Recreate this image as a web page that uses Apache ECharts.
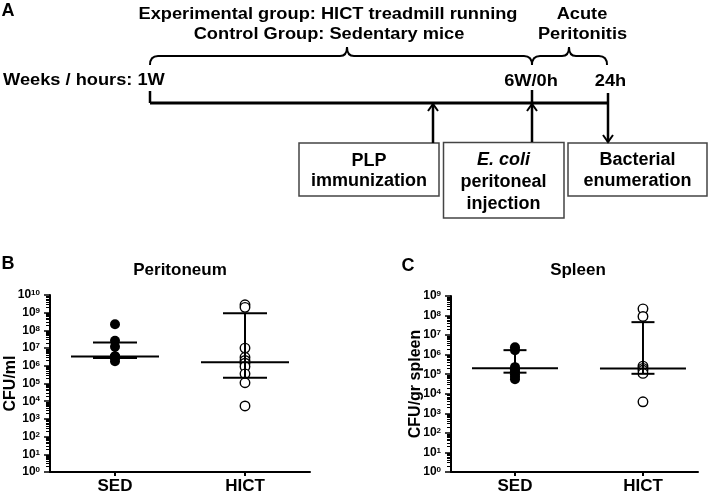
<!DOCTYPE html>
<html><head><meta charset="utf-8">
<script src="https://cdn.jsdelivr.net/npm/echarts@6.0.0/dist/echarts.min.js"></script>
<style>html,body{margin:0;padding:0;background:#fff}#c{width:709px;height:495px}</style>
</head><body><div id="c"></div>
<script>
// ---------- data ----------
const categories = ['SED', 'HICT'];
// Panel B: Peritoneum (CFU/ml)
const periSED = [2.2e8, 2.6e7, 1.2e7, 3.5e6, 3.4e6, 3.0e6, 2.8e6, 1.8e6];
const periHICT = [2.8e9, 2.0e9, 1.0e7, 3.0e6, 2.0e6, 1.4e6, 9.0e5, 3.5e5, 1.1e5, 5.4e3];
const periMedian = [3.4e6, 1.6e6];
const periQ1 = [2.8e6, 2.1e5];
const periQ3 = [2.1e7, 9.3e8];
// Panel C: Spleen (CFU/gr spleen)
const splSED = [2.4e6, 1.7e6, 2.3e5, 1.8e5, 1.4e5, 1.0e5, 7.5e4, 5.6e4];
const splHICT = [2.2e8, 9.0e7, 2.6e5, 2.0e5, 1.6e5, 1.1e5, 3.9e3];
const splMedian = [2.0e5, 1.95e5];
const splQ1 = [1.2e5, 1.05e5];
const splQ3 = [1.7e6, 4.6e7];
// axis ticks
const periMajorTicks = [1, 1e1, 1e2, 1e3, 1e4, 1e5, 1e6, 1e7, 1e8, 1e9, 1e10];
const splMajorTicks = [1, 1e1, 1e2, 1e3, 1e4, 1e5, 1e6, 1e7, 1e8, 1e9];

function minorTicks(maxExp) {
  const out = [];
  for (let d = 0; d < maxExp; d++) for (let m = 2; m <= 9; m++) out.push(m * Math.pow(10, d));
  return out;
}

const FONT = '"Liberation Sans", Arial, sans-serif';
const chart = echarts.init(document.getElementById('c'));

function pts(idx, arr) { return arr.map(v => [idx + 1, v]); }
function barsData(med, q1, q3) { return categories.map((c, i) => [i + 1, med[i], q1[i], q3[i]]); }

function barsRender(halfMed, halfQ) {
  return function (params, api) {
    const x = api.value(0);
    const pm = api.coord([x, api.value(1)]);
    const p1 = api.coord([x, api.value(2)]);
    const p3 = api.coord([x, api.value(3)]);
    const style = { stroke: '#000', lineWidth: 2 };
    return { type: 'group', children: [
      { type: 'line', shape: { x1: pm[0], y1: p1[1], x2: pm[0], y2: p3[1] }, style },
      { type: 'line', shape: { x1: pm[0] - halfMed, y1: pm[1], x2: pm[0] + halfMed, y2: pm[1] }, style },
      { type: 'line', shape: { x1: pm[0] - halfQ, y1: p1[1], x2: pm[0] + halfQ, y2: p1[1] }, style },
      { type: 'line', shape: { x1: pm[0] - halfQ, y1: p3[1], x2: pm[0] + halfQ, y2: p3[1] }, style }
    ]};
  };
}

function xAxis(gridIndex, max) {
  return {
    type: 'value', gridIndex, min: 0.5, max,
    axisLine: { show: true, lineStyle: { color: '#000', width: 2 } },
    axisTick: { show: true, customValues: [1, 2], length: 4, lineStyle: { color: '#000', width: 2 } },
    axisLabel: { customValues: [1, 2], margin: 6, formatter: v => categories[Math.round(v) - 1],
      fontFamily: FONT, fontSize: 17, fontWeight: 'bold', color: '#000' },
    splitLine: { show: false }
  };
}
function yMajor(gridIndex, max, ticks, name, nameGap, nameSize) {
  return {
    type: 'log', logBase: 10, gridIndex, min: 1, max, position: 'left',
    name, nameLocation: 'middle', nameGap, nameMoveOverlap: false,
    nameTextStyle: { fontFamily: FONT, fontSize: nameSize, fontWeight: 'bold', color: '#000' },
    axisLine: { show: true, lineStyle: { color: '#000', width: 2 } },
    axisTick: { show: true, customValues: ticks, length: 6, lineStyle: { color: '#000', width: 1.5 } },
    axisLabel: { customValues: ticks, margin: 10,
      formatter: v => '{b|10}{s|' + Math.round(Math.log10(v)) + '}',
      rich: {
        b: { fontFamily: FONT, fontSize: 12, fontWeight: 'bold', color: '#000' },
        s: { fontFamily: FONT, fontSize: 8, fontWeight: 'bold', color: '#000', verticalAlign: 'top' }
      } },
    splitLine: { show: false }, minorTick: { show: false }
  };
}
function yMinor(gridIndex, max, ticks) {
  return {
    type: 'log', logBase: 10, gridIndex, min: 1, max, position: 'left',
    axisLine: { show: false }, axisLabel: { show: false }, splitLine: { show: false },
    axisTick: { show: true, customValues: ticks, length: 4, lineStyle: { color: '#000', width: 1 } }
  };
}

const txt = (text, x, y, size, opts = {}) => Object.assign({
  type: 'text', x, y, z: 10,
  style: { text, fontFamily: FONT, fontSize: size, fontWeight: 'bold', fill: '#000',
    textAlign: opts.align || 'center', textVerticalAlign: 'middle', fontStyle: opts.italic ? 'italic' : 'normal' }
}, opts.scaleX ? { scaleX: opts.scaleX } : {});
const ln = (x1, y1, x2, y2, w) => ({ type: 'line', z: 10, shape: { x1, y1, x2, y2 }, style: { stroke: '#000', lineWidth: w } });
const pl = (points, w) => ({ type: 'polyline', z: 10, shape: { points }, style: { stroke: '#000', lineWidth: w, fill: null } });
const qc = (x1, y1, cpx1, cpy1, x2, y2) => ({ type: 'bezierCurve', z: 10, shape: { x1, y1, x2, y2, cpx1, cpy1 }, style: { stroke: '#000', lineWidth: 2, fill: null } });
const box = (x, y, width, height) => ({ type: 'rect', z: 9, shape: { x, y, width, height }, style: { stroke: '#444', lineWidth: 1.5, fill: '#fff' } });
function brace(xl, xm, xr, yb, yh, yt) {
  return [
    qc(xl, yb, xl, yh, xl + 8, yh),
    ln(xl + 8, yh, xm - 7, yh, 2),
    qc(xm - 7, yh, xm, yh, xm, yt),
    qc(xm, yt, xm, yh, xm + 7, yh),
    ln(xm + 7, yh, xr - 8, yh, 2),
    qc(xr - 8, yh, xr, yh, xr, yb)
  ];
}
const SX = 1.14;

const graphics = [
  txt('A', 8, 11, 18),
  txt('Experimental group: HICT treadmill running', 328, 15, 16, { scaleX: SX }),
  txt('Control Group: Sedentary mice', 329, 35, 16, { scaleX: SX }),
  txt('Acute', 582, 15, 16, { scaleX: SX }),
  txt('Peritonitis', 582.5, 35, 16, { scaleX: SX }),
  ...brace(150, 347, 532, 65, 56, 47),
  ...brace(532, 569, 607, 65, 56, 47),
  txt('Weeks / hours: 1W', 3, 81, 16, { align: 'left', scaleX: SX }),
  txt('6W/0h', 531, 82, 16, { scaleX: SX }),
  txt('24h', 610.5, 82, 16, { scaleX: SX }),
  ln(150, 103, 608, 103, 3),
  ln(150, 91, 150, 103, 2.5),
  ln(532, 90, 532, 142, 2.5),
  ln(608, 93, 608, 142, 2.5),
  ln(433, 104, 433, 143, 2.5),
  pl([[428, 111], [433, 104], [438, 111]], 2),
  pl([[527, 111], [532, 104], [537, 111]], 2),
  pl([[603, 135], [608, 142], [613, 135]], 2),
  box(299, 143, 140, 53),
  box(443.5, 142.5, 120.5, 75.5),
  box(568, 143, 139, 53),
  txt('PLP', 369, 161, 18),
  txt('immunization', 369, 181, 18),
  txt('E. coli', 503.5, 160, 18, { italic: true }),
  txt('peritoneal', 503.5, 182, 18),
  txt('injection', 503.5, 204, 18),
  txt('Bacterial', 637.5, 160, 18),
  txt('enumeration', 637.5, 181, 18),
  txt('B', 8, 264, 18),
  txt('C', 408, 266, 18),
  txt('Peritoneum', 180, 270, 17),
  txt('Spleen', 578, 270, 17)
];

const filled = { color: '#000', opacity: 1 };
const hollow = { color: '#fff', borderColor: '#000', borderWidth: 1.4, opacity: 1 };

chart.setOption({
  animation: false,
  backgroundColor: '#fff',
  grid: [
    { left: 50, top: 295, width: 260, height: 177 },
    { left: 451, top: 296, width: 247, height: 176 }
  ],
  xAxis: [xAxis(0, 2.5), xAxis(1, 2.43)],
  yAxis: [
    yMajor(0, 1e10, periMajorTicks, 'CFU/ml', 31, 16),
    yMinor(0, 1e10, minorTicks(10)),
    yMajor(1, 1e9, splMajorTicks, 'CFU/gr spleen', 27, 16),
    yMinor(1, 1e9, minorTicks(9))
  ],
  series: [
    { type: 'scatter', xAxisIndex: 0, yAxisIndex: 0, data: pts(0, periSED), symbol: 'circle', symbolSize: 10, itemStyle: filled, z: 2 },
    { type: 'scatter', xAxisIndex: 0, yAxisIndex: 0, data: pts(1, periHICT), symbol: 'circle', symbolSize: 9.5, itemStyle: hollow, z: 2 },
    { type: 'custom', xAxisIndex: 0, yAxisIndex: 0, data: barsData(periMedian, periQ1, periQ3), renderItem: barsRender(44, 22), z: 3 },
    { type: 'scatter', xAxisIndex: 1, yAxisIndex: 2, data: pts(0, splSED), symbol: 'circle', symbolSize: 10, itemStyle: filled, z: 2 },
    { type: 'scatter', xAxisIndex: 1, yAxisIndex: 2, data: pts(1, splHICT), symbol: 'circle', symbolSize: 9.5, itemStyle: hollow, z: 2 },
    { type: 'custom', xAxisIndex: 1, yAxisIndex: 2, data: barsData(splMedian, splQ1, splQ3), renderItem: barsRender(43, 11.5), z: 3 }
  ],
  graphic: graphics
});
</script>
</body></html>
